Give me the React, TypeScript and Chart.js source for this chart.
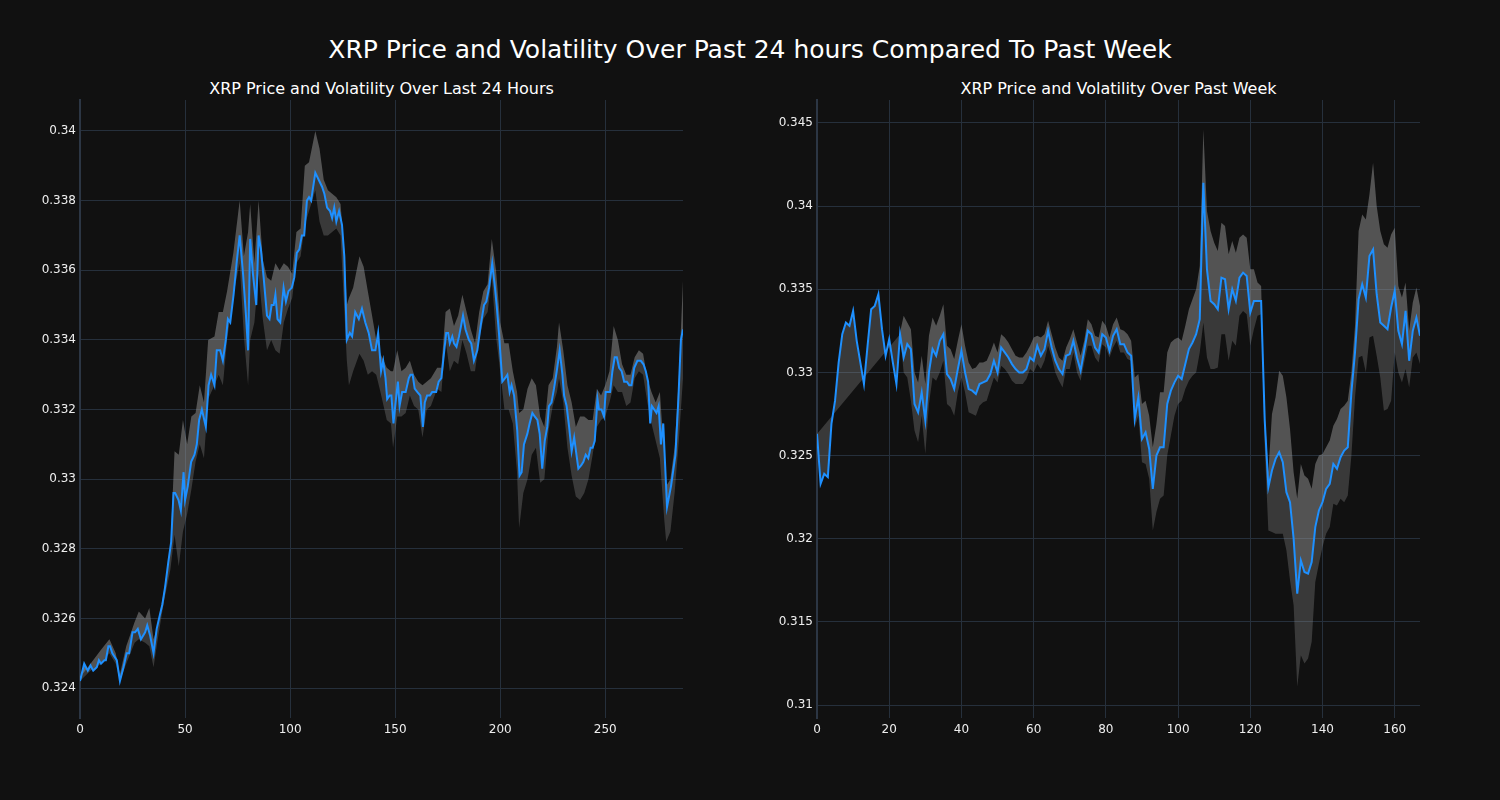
import React, { useEffect, useRef } from "react";
import { Chart, registerables } from "chart.js";

Chart.register(...registerables);

// ---------- Titles ----------
const SUPTITLE = "XRP Price and Volatility Over Past 24 hours Compared To Past Week";
const DAY_TITLE = "XRP Price and Volatility Over Last 24 Hours";
const WEEK_TITLE = "XRP Price and Volatility Over Past Week";

// ---------- Last 24 hours ----------
const dayX = [
  0, 2, 3.7, 5, 6.3, 8, 9, 10, 11.6, 12.3,
  13.5, 14.3, 15.4, 17.5, 19, 20.7, 22.2, 23.4, 25, 26.2,
  27.5, 29, 31, 32, 33.4, 35, 36.5, 38, 39.2, 40.5,
  42, 43.4, 44.5, 45.3, 46.9, 48, 49.3, 50, 51.3, 52.9,
  54.5, 55.6, 56.7, 58, 59.9, 61.2, 62.4, 64, 65.1, 66.7,
  68, 69.4, 70.4, 71.5, 73.1, 74.7, 76, 77.6, 79, 80,
  81, 82.3, 83.9, 85, 86.1, 87.4, 89, 90.2, 91.2, 92.2,
  93, 94, 95.3, 96.9, 98, 99.2, 100.8, 102, 103.2, 104.4,
  105.6, 106.7, 108, 109, 110, 112, 113.6, 115.2, 116.3, 117.6,
  119, 120, 121, 122, 123.3, 124.7, 125.8, 127, 128.4, 129.5,
  131, 132.7, 134.2, 135.8, 137.4, 139, 140.6, 141.9, 143.3, 144.3,
  145.4, 146.2, 147.3, 148.2, 149.2, 150.2, 151.3, 152.1, 153.3, 155,
  156.5, 157.3, 158.3, 159.3, 160.6, 162, 163.2, 164.1, 165.2, 166.5,
  167.6, 169.5, 170.7, 172, 173.2, 174.3, 175.2, 176, 177.2, 178,
  179.2, 180.4, 182.3, 183.5, 185.1, 186.2, 187.5, 189.1, 190.7, 192.3,
  193.4, 194.7, 196.2, 197.5, 198.3, 199.4, 201, 202.3, 203.4, 204.5,
  205.4, 206.6, 208.1, 209.2, 210.2, 211.3, 212.9, 214, 215.3, 216.4,
  217.7, 218.8, 220, 221.2, 222.4, 223.2, 224.4, 225.6, 226.9, 228.3,
  229.6, 230.4, 231.6, 232.8, 234, 235.2, 236.3, 237.2, 238.6, 239.6,
  240.7, 241.9, 243, 244, 245, 246.3, 247, 248.2, 249.4, 250.2,
  251.3, 252.3, 253.4, 254.5, 255.5, 256.6, 257.8, 259, 260.3, 261.4,
  262.5, 263.8, 265.3, 266.9, 268.2, 269.3, 270.4, 271.4, 272.2, 273.3,
  274.4, 275.4, 276.5, 277.6, 279.4, 281.3, 283.4, 284.8, 286, 287,
];
const dayPrice = [
  0.3242, 0.3247, 0.3245, 0.32465, 0.3245, 0.3246, 0.3248, 0.3247, 0.3248, 0.3248,
  0.3252, 0.3252, 0.325, 0.3248, 0.3242, 0.3246, 0.325, 0.325, 0.3256, 0.3256,
  0.3257, 0.3254, 0.3256, 0.3258, 0.3255, 0.325, 0.3257, 0.3261, 0.3264, 0.3269,
  0.3276, 0.3282, 0.3296, 0.3296, 0.3294, 0.3291, 0.3302, 0.3294, 0.3298, 0.3305,
  0.3307, 0.331, 0.3317, 0.332, 0.3315, 0.3327, 0.333, 0.3327, 0.3337, 0.3337,
  0.3334, 0.334, 0.3346, 0.3345, 0.3353, 0.3363, 0.337, 0.3359, 0.3347, 0.3337,
  0.3369, 0.3359, 0.335, 0.337, 0.3366, 0.3358, 0.3347, 0.3346, 0.335, 0.335,
  0.3353, 0.3346, 0.3345, 0.3355, 0.3351, 0.3354, 0.3355, 0.3358, 0.3365, 0.3366,
  0.337, 0.337, 0.338, 0.3381, 0.338, 0.3388, 0.3386, 0.3384, 0.3382, 0.3378,
  0.3377, 0.3375, 0.3378, 0.3374, 0.3377, 0.3373, 0.3364, 0.334, 0.3342, 0.3341,
  0.3348, 0.3346, 0.3349, 0.3345, 0.3342, 0.3337, 0.3337, 0.3342, 0.3331, 0.3334,
  0.3329, 0.3323, 0.3324, 0.3324, 0.3316, 0.3322, 0.3328, 0.3321, 0.3325, 0.3325,
  0.3329, 0.333, 0.333, 0.3326, 0.3325, 0.3324, 0.3315, 0.3322, 0.3324, 0.3324,
  0.3325, 0.3325, 0.3328, 0.3329, 0.3336, 0.3342, 0.3342, 0.3339, 0.3341, 0.3339,
  0.3338, 0.3341, 0.3347, 0.3343, 0.334, 0.3339, 0.3334, 0.3337, 0.3344, 0.335,
  0.3351, 0.3355, 0.3362, 0.3355, 0.335, 0.3342, 0.3328, 0.3329, 0.333, 0.3325,
  0.3327, 0.3324, 0.3314, 0.3301, 0.3302, 0.331, 0.3313, 0.3316, 0.3319, 0.3318,
  0.3317, 0.3313, 0.3303, 0.3311, 0.3315, 0.3321, 0.3322, 0.3326, 0.3331, 0.3337,
  0.333, 0.3324, 0.3321, 0.3315, 0.3308, 0.3312, 0.3307, 0.3303, 0.3304, 0.3305,
  0.3307, 0.3306, 0.3309, 0.3309, 0.3311, 0.3323, 0.332, 0.332, 0.3318, 0.3325,
  0.3325, 0.3325, 0.3331, 0.3335, 0.3335, 0.3332, 0.3331, 0.3328, 0.3328, 0.3327,
  0.3327, 0.3332, 0.3334, 0.3334, 0.3333, 0.3331, 0.3328, 0.3316, 0.3321, 0.332,
  0.3319, 0.3321, 0.331, 0.3316, 0.3292, 0.3298, 0.3307, 0.3323, 0.334, 0.3343,
];
const dayBandX = [
  0, 5, 10, 14, 17, 19, 22, 26, 28, 31,
  33, 35, 37, 40, 43, 45, 47, 49, 51, 53,
  55, 57, 59, 61, 64, 66, 68, 70, 73, 76,
  78, 80, 81, 83, 85, 87, 89, 91, 93, 95,
  97, 99, 101, 103, 105, 107, 109, 112, 114, 116,
  118, 120, 122, 124, 126, 127, 128, 130, 133, 135,
  137, 139, 141, 143, 146, 148, 149, 151, 153, 155,
  157, 159, 161, 163, 165, 167, 170, 172, 174, 176,
  178, 180, 182, 184, 186, 188, 190, 192, 194, 196,
  198, 200, 202, 204, 206, 208, 209, 211, 213, 215,
  217, 219, 221, 223, 225, 227, 228, 230, 232, 234,
  236, 238, 240, 242, 244, 246, 248, 250, 252, 254,
  256, 258, 260, 262, 264, 266, 268, 270, 272, 274,
  276, 278, 279, 281, 283, 285, 287,
];
const dayUpper = [
  0.3243, 0.3247, 0.3251, 0.3254, 0.325, 0.3244, 0.3252, 0.3259, 0.3262, 0.326,
  0.3263, 0.3254, 0.3258, 0.3268, 0.328, 0.3308, 0.3307, 0.3317, 0.331, 0.3318,
  0.3319, 0.3327, 0.3322, 0.334, 0.3341, 0.3348, 0.3348, 0.3354, 0.3365, 0.338,
  0.3364, 0.3371, 0.3379, 0.3362, 0.338, 0.3363, 0.3358, 0.3357, 0.3362, 0.336,
  0.3362, 0.3361, 0.3359, 0.3371, 0.3372, 0.339, 0.3391, 0.34, 0.3395, 0.3386,
  0.3383, 0.3382, 0.3381, 0.3379, 0.3364, 0.335, 0.3352, 0.3355, 0.3364, 0.3361,
  0.3354, 0.3347, 0.334, 0.3336, 0.3332, 0.3331, 0.3331, 0.3337, 0.3331, 0.3332,
  0.3334, 0.333, 0.3328, 0.3327, 0.3328, 0.3329, 0.3332, 0.3332, 0.3348, 0.3349,
  0.3344, 0.3347, 0.3353, 0.3348, 0.3343, 0.3339, 0.3348, 0.3354, 0.3356, 0.3369,
  0.336, 0.3345, 0.3339, 0.3339, 0.3331, 0.3325, 0.3319, 0.332, 0.3326, 0.3329,
  0.3327, 0.3318, 0.3315, 0.3327, 0.3329, 0.3338, 0.3345, 0.3337, 0.3327, 0.3322,
  0.3315, 0.3318, 0.3318, 0.3317, 0.3317, 0.3326, 0.3324, 0.3327, 0.3331, 0.3344,
  0.334, 0.3333, 0.333, 0.333, 0.3335, 0.3337, 0.3336, 0.3329, 0.3325, 0.3322,
  0.3325, 0.3307, 0.3298, 0.33, 0.3309, 0.3329, 0.3357,
];
const dayLower = [
  0.3242, 0.3245, 0.3247, 0.325, 0.3247, 0.3242, 0.3247, 0.3253, 0.3254, 0.3253,
  0.3252, 0.3246, 0.3254, 0.3265, 0.3274, 0.3284, 0.3275, 0.3285, 0.329, 0.3297,
  0.3305, 0.331, 0.3306, 0.3323, 0.3327, 0.333, 0.3327, 0.334, 0.3353, 0.3362,
  0.3341, 0.3327, 0.334, 0.3345, 0.3359, 0.3346, 0.3337, 0.334, 0.3337, 0.3336,
  0.3345, 0.3349, 0.3352, 0.3362, 0.3364, 0.3373, 0.3377, 0.3383, 0.3374, 0.337,
  0.337, 0.3371, 0.3372, 0.337, 0.3346, 0.3334, 0.3327, 0.3331, 0.3336, 0.3334,
  0.333, 0.3331, 0.333, 0.3325, 0.3317, 0.3316, 0.3309, 0.3318, 0.3318, 0.3319,
  0.3324, 0.3321, 0.332, 0.3312, 0.332, 0.3321, 0.3326, 0.3325, 0.334, 0.3331,
  0.3334, 0.3333, 0.334, 0.3336, 0.3331, 0.3331, 0.334, 0.3346, 0.3348, 0.3358,
  0.3341, 0.3331, 0.332, 0.332, 0.3316, 0.3302, 0.3286, 0.3296, 0.33, 0.3307,
  0.3309, 0.3299, 0.33, 0.3314, 0.3321, 0.3325, 0.3329, 0.3322, 0.3309, 0.3301,
  0.3295, 0.3294, 0.3296, 0.33, 0.3307, 0.3315, 0.3317, 0.3318, 0.3322, 0.3327,
  0.3325, 0.3325, 0.3321, 0.3322, 0.3329, 0.3331, 0.333, 0.3322, 0.3316, 0.3311,
  0.3306, 0.3289, 0.3282, 0.3285, 0.3296, 0.3311, 0.3329,
];
const dayXTicks = [0, 50, 100, 150, 200, 250];
const dayYTicks = [0.324, 0.326, 0.328, 0.33, 0.332, 0.334, 0.336, 0.338, 0.34];

// ---------- Past week (one value per index 0..167) ----------
const weekPrice = [
  0.3263, 0.3233, 0.3239, 0.3237, 0.3269, 0.3283, 0.3306, 0.3323, 0.333, 0.3328,
  0.3337, 0.3319, 0.3306, 0.3293, 0.3316, 0.3338, 0.334, 0.3347, 0.3326, 0.331,
  0.332, 0.3306, 0.3293, 0.3323, 0.3309, 0.3317, 0.3314, 0.3281, 0.3276, 0.3288,
  0.3271, 0.33, 0.3314, 0.331, 0.3319, 0.3323, 0.3299, 0.3296, 0.329, 0.3302,
  0.3313, 0.33, 0.329, 0.3289, 0.3287, 0.3293, 0.3294, 0.3295, 0.3299, 0.3307,
  0.33, 0.3315, 0.3312, 0.3309, 0.3305, 0.3302, 0.33, 0.33, 0.3302, 0.3309,
  0.3307, 0.3316, 0.331, 0.3314, 0.3325, 0.3315, 0.3307, 0.3302, 0.3299, 0.331,
  0.3311, 0.3319, 0.3309, 0.3301, 0.3313, 0.3325, 0.3323, 0.3315, 0.3312, 0.3323,
  0.3321, 0.3313, 0.3322, 0.3326, 0.3317, 0.3317, 0.3312, 0.331, 0.3272, 0.3285,
  0.326, 0.3264, 0.3254, 0.323, 0.325, 0.3255, 0.3255, 0.3281, 0.3289, 0.3294,
  0.3298, 0.3296, 0.3305, 0.3314, 0.3318, 0.3323, 0.3332, 0.3414, 0.3362, 0.3343,
  0.3341, 0.3338, 0.3357, 0.3356, 0.3338, 0.335, 0.3343, 0.3357, 0.336, 0.3358,
  0.3336, 0.3343, 0.3343, 0.3343, 0.3271, 0.3231, 0.3241, 0.3248, 0.3252, 0.3246,
  0.3228, 0.3222, 0.32, 0.3167, 0.3187, 0.318, 0.3179, 0.3186, 0.3207, 0.3217,
  0.3222, 0.323, 0.3233, 0.3245, 0.3242, 0.3249, 0.3253, 0.3255, 0.3288, 0.3312,
  0.3344, 0.3353, 0.3345, 0.337, 0.3374, 0.3347, 0.333, 0.3328, 0.3326, 0.3339,
  0.3349, 0.3325, 0.3317, 0.3337, 0.3307, 0.3325, 0.3333, 0.3322,
];
// Band values start at index 23; before that the lower edge runs straight from index 0
const weekBandStart = 23;
const weekLowerLead = 0.3263;
const weekUpper = [
  0.3324, 0.3334, 0.333, 0.3326, 0.33, 0.3294, 0.331, 0.3293, 0.3322, 0.3333,
  0.3328, 0.3334, 0.3341, 0.3316, 0.3314, 0.3308, 0.3319, 0.3329, 0.3316, 0.3306,
  0.3302, 0.3303, 0.3306, 0.3306, 0.3307, 0.3312, 0.3318, 0.3312, 0.3323, 0.3321,
  0.3318, 0.3314, 0.331, 0.3309, 0.3309, 0.3312, 0.3316, 0.3321, 0.3322, 0.3321,
  0.3323, 0.3331, 0.3323, 0.3315, 0.3309, 0.3307, 0.3315, 0.332, 0.3326, 0.3318,
  0.331, 0.3319, 0.3332, 0.3329, 0.3322, 0.3321, 0.3331, 0.3328, 0.3321, 0.3329,
  0.3333, 0.3326, 0.3325, 0.3323, 0.3319, 0.3297, 0.3299, 0.3281, 0.3283, 0.3274,
  0.3255, 0.3269, 0.3288, 0.3288, 0.3312, 0.3318, 0.332, 0.3321, 0.3319, 0.3328,
  0.3338, 0.3344, 0.335, 0.3364, 0.3446, 0.3397, 0.3385, 0.3378, 0.3373, 0.339,
  0.3388, 0.3371, 0.3379, 0.3372, 0.3381, 0.3383, 0.3381, 0.3362, 0.3362, 0.3354,
  0.3352, 0.3275, 0.324, 0.3275, 0.3285, 0.3301, 0.3298, 0.3285, 0.3266, 0.324,
  0.3224, 0.3245, 0.3238, 0.3236, 0.323, 0.3245, 0.325, 0.3251, 0.3255, 0.3259,
  0.3268, 0.3272, 0.3278, 0.328, 0.3283, 0.33, 0.3328, 0.3385, 0.3395, 0.3392,
  0.3407, 0.3426, 0.34, 0.3385, 0.3377, 0.3375, 0.3383, 0.3387, 0.3352, 0.3345,
  0.3354, 0.3325, 0.3342, 0.3351, 0.334,
];
const weekLower = [
  0.3323, 0.33, 0.3297, 0.3283, 0.3265, 0.3258, 0.3274, 0.3251, 0.3281, 0.3297,
  0.3295, 0.33, 0.3307, 0.3281, 0.3279, 0.3274, 0.3288, 0.3297, 0.3288, 0.3276,
  0.3275, 0.3274, 0.328, 0.3282, 0.3283, 0.329, 0.3297, 0.3294, 0.3304, 0.3302,
  0.3299, 0.3295, 0.3293, 0.3293, 0.3293, 0.3296, 0.3302, 0.33, 0.3305, 0.3302,
  0.3307, 0.3316, 0.3309, 0.33, 0.3295, 0.3291, 0.3302, 0.3302, 0.3312, 0.33,
  0.3295, 0.3306, 0.3316, 0.3316, 0.3309, 0.3306, 0.3317, 0.3315, 0.3309, 0.3315,
  0.3319, 0.3312, 0.3312, 0.3308, 0.3307, 0.3267, 0.3274, 0.3246, 0.3245, 0.3236,
  0.3205, 0.3216, 0.3224, 0.3226, 0.325, 0.3262, 0.3274, 0.3281, 0.3283, 0.329,
  0.3295, 0.3298, 0.33, 0.3312, 0.333, 0.3309, 0.3302, 0.3302, 0.3303, 0.3323,
  0.3323, 0.3307, 0.3319, 0.3316, 0.3334, 0.3337, 0.3335, 0.3316, 0.3326, 0.3334,
  0.3335, 0.3255, 0.3205, 0.3204, 0.3203, 0.3203, 0.3203, 0.3193, 0.3175, 0.316,
  0.3111, 0.313, 0.3125, 0.3128, 0.3138, 0.3174, 0.3185, 0.3195, 0.3203, 0.3207,
  0.3221, 0.322, 0.3224, 0.3222, 0.3226, 0.325, 0.3285, 0.3309, 0.331, 0.33,
  0.3321, 0.3322, 0.331, 0.3297, 0.3277, 0.3278, 0.3283, 0.3312, 0.33, 0.3294,
  0.3302, 0.3291, 0.3309, 0.3312, 0.3305,
];
const weekXTicks = [0, 20, 40, 60, 80, 100, 120, 140, 160];
const weekYTicks = [0.31, 0.315, 0.32, 0.325, 0.33, 0.335, 0.34, 0.345];

// ---------- Styles ----------
const BG = "#111111";
const GRID = "#26303c";
const SPINE = "#2c3644";
const TEXT = "#eeeeee";
const LINE = "#1e90ff";
const BAND_LIGHT = "rgba(150,150,150,0.5)";
const BAND_DARK = "rgba(150,150,150,0.31)";
const FONT = "'DejaVu Sans', 'Liberation Sans', sans-serif";

type XY = { x: number; y: number };

const zipXY = (xs: number[], ys: number[]): XY[] => ys.map((y, i) => ({ x: xs[i], y }));
const indexed = (ys: number[], start = 0): XY[] => ys.map((y, i) => ({ x: start + i, y }));

type Panel = {
  price: XY[];
  upper: XY[];
  lower: XY[];
  xMin: number;
  xMax: number;
  yMin: number;
  yMax: number;
  xTicks: number[];
  yTicks: number[];
  yAxisWidth: number;
  padRight: number;
};

function makeChart(canvas: HTMLCanvasElement, p: Panel) {
  return new Chart(canvas, {
    type: "line",
    data: {
      datasets: [
        {
          data: p.price,
          borderColor: LINE,
          borderWidth: 2,
          pointRadius: 0,
          tension: 0,
          fill: false,
        },
        {
          data: p.upper,
          borderColor: "transparent",
          borderWidth: 1,
          pointRadius: 0,
          tension: 0,
          fill: { target: 0, above: BAND_LIGHT, below: BAND_LIGHT },
        },
        {
          data: p.lower,
          borderColor: "transparent",
          borderWidth: 1,
          pointRadius: 0,
          tension: 0,
          fill: { target: 0, above: BAND_DARK, below: BAND_DARK },
        },
      ],
    } as any,
    options: {
      animation: false,
      responsive: false,
      devicePixelRatio: 1,
      events: [],
      layout: { padding: { top: 100, right: p.padRight, left: 0, bottom: 0 } },
      plugins: {
        legend: { display: false },
        tooltip: { enabled: false },
        title: { display: false },
      },
      scales: {
        x: {
          type: "linear",
          min: p.xMin,
          max: p.xMax,
          afterFit: (s: any) => {
            s.height = 82;
          },
          afterBuildTicks: (s: any) => {
            s.ticks = p.xTicks.map((v) => ({ value: v }));
          },
          grid: { color: GRID, lineWidth: 1, drawTicks: false },
          border: { display: false },
          ticks: {
            color: TEXT,
            padding: 5,
            maxRotation: 0,
            font: { family: FONT, size: 12 },
            callback: (v: any) => String(v),
          },
        },
        y: {
          type: "linear",
          min: p.yMin,
          max: p.yMax,
          afterFit: (s: any) => {
            s.width = p.yAxisWidth;
          },
          afterBuildTicks: (s: any) => {
            s.ticks = p.yTicks.map((v) => ({ value: v }));
          },
          grid: { color: GRID, lineWidth: 1, drawTicks: false },
          border: { display: true, color: SPINE, width: 2 },
          ticks: {
            color: TEXT,
            padding: 4,
            font: { family: FONT, size: 12 },
            callback: (v: any) => String(Number(Number(v).toFixed(3))),
          },
        },
      },
    } as any,
  });
}

function ChartCanvas({ panel, left }: { panel: Panel; left: number }) {
  const ref = useRef<HTMLCanvasElement | null>(null);
  useEffect(() => {
    if (!ref.current) return;
    const chart = makeChart(ref.current, panel);
    return () => chart.destroy();
  }, [panel]);
  return (
    <canvas
      ref={ref}
      width={750}
      height={800}
      style={{ position: "absolute", left, top: 0, width: 750, height: 800 }}
    />
  );
}

const dayPanel: Panel = {
  price: zipXY(dayX, dayPrice),
  upper: zipXY(dayBandX, dayUpper),
  lower: zipXY(dayBandX, dayLower),
  xMin: 0,
  xMax: 287,
  yMin: 0.32314,
  yMax: 0.34089,
  xTicks: dayXTicks,
  yTicks: dayYTicks,
  yAxisWidth: 80,
  padRight: 67,
};

const weekPanel: Panel = {
  price: indexed(weekPrice),
  upper: indexed(weekUpper, weekBandStart),
  lower: [{ x: 0, y: weekLowerLead }, ...indexed(weekLower, weekBandStart)],
  xMin: 0,
  xMax: 167,
  yMin: 0.30922,
  yMax: 0.34638,
  xTicks: weekXTicks,
  yTicks: weekYTicks,
  yAxisWidth: 67,
  padRight: 80,
};

export default function App() {
  return (
    <div
      style={{
        position: "fixed",
        left: 0,
        top: 0,
        width: 1500,
        height: 800,
        background: BG,
        overflow: "hidden",
        fontFamily: FONT,
      }}
    >
      <div
        style={{
          position: "absolute",
          left: 0,
          top: 35,
          width: 1500,
          textAlign: "center",
          color: "#ffffff",
          fontSize: 25,
          lineHeight: "30px",
          whiteSpace: "nowrap",
        }}
      >
        {SUPTITLE}
      </div>
      <div
        style={{
          position: "absolute",
          left: 0,
          top: 79,
          width: 763,
          textAlign: "center",
          color: "#ffffff",
          fontSize: 16,
          lineHeight: "20px",
          whiteSpace: "nowrap",
        }}
      >
        {DAY_TITLE}
      </div>
      <div
        style={{
          position: "absolute",
          left: 817,
          top: 79,
          width: 603,
          textAlign: "center",
          color: "#ffffff",
          fontSize: 16,
          lineHeight: "20px",
          whiteSpace: "nowrap",
        }}
      >
        {WEEK_TITLE}
      </div>
      <ChartCanvas panel={dayPanel} left={0} />
      <ChartCanvas panel={weekPanel} left={750} />
    </div>
  );
}
